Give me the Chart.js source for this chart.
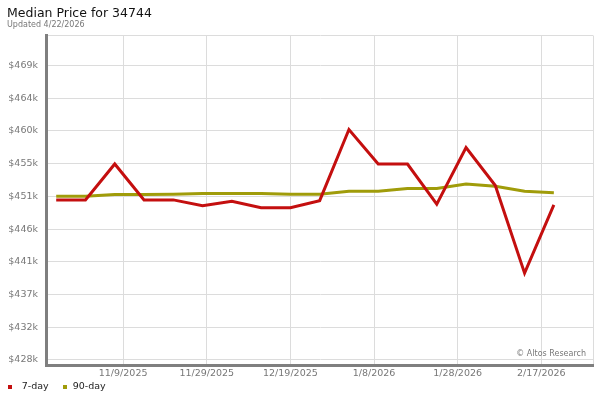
<!DOCTYPE html>
<html>
<head>
<meta charset="utf-8">
<script src="https://cdn.jsdelivr.net/npm/chart.js@4/dist/chart.umd.min.js"></script>
<style>
  html, body { margin: 0; padding: 0; background: #fff; }
  #wrap { width: 600px; height: 400px; }
</style>
</head>
<body>
<div id="wrap"><canvas id="c" width="600" height="400"></canvas></div>
<script>
// ---- data ----
const weekDates = ['2025-10-24','2025-10-31','2025-11-07','2025-11-14','2025-11-21','2025-11-28',
  '2025-12-05','2025-12-12','2025-12-19','2025-12-26','2026-01-02','2026-01-09',
  '2026-01-16','2026-01-23','2026-01-30','2026-02-06','2026-02-13','2026-02-20'];
const sevenDay = [450100, 450100, 455100, 450100, 450100, 449300, 449900, 449000, 449000,
  450000, 459900, 455100, 455100, 449500, 457400, 452100, 439900, 449400];
const ninetyDay = [450600, 450600, 450850, 450850, 450900, 451000, 451000, 451000, 450900,
  450900, 451300, 451300, 451700, 451700, 452300, 452000, 451300, 451100];
const xTickDates = ['2025-11-09','2025-11-29','2025-12-19','2026-01-08','2026-01-28','2026-02-17'];
const xTickLabels = ['11/9/2025','11/29/2025','12/19/2025','1/8/2026','1/28/2026','2/17/2026'];
const yTickValues = [427800, 432360, 436920, 441480, 446040, 450600, 455160, 459720, 464280, 468840];
const yTickLabels = ['$428k','$432k','$437k','$441k','$446k','$451k','$455k','$460k','$464k','$469k'];
const seriesNames = ['7-day', '90-day'];

// ---- helpers ----
function dayNum(s) { const p = s.split('-').map(Number); return Date.UTC(p[0], p[1]-1, p[2]) / 86400000; }
const weekDays = weekDates.map(dayNum);
const xTickDays = xTickDates.map(dayNum);
const refDay = dayNum('2025-12-19');
const xMin = refDay - 58.44, xMax = refDay + 72.36;
const yMin = 427100, yMax = 473000;

const RED = '#c40f0f', OLIVE = '#a09c0a';
const FONT = '"DejaVu Sans", sans-serif';

// legend swatch: small square inside a 9px-wide slot
function swatch(color, offset) {
  const c = document.createElement('canvas');
  c.width = 9; c.height = 4;
  const g = c.getContext('2d');
  g.fillStyle = color; g.fillRect(offset, 0, 4, 4);
  return c;
}

const creditPlugin = {
  id: 'credit',
  beforeDatasetsDraw(chart) {
    const {ctx, chartArea} = chart;
    ctx.save();
    ctx.font = '8px ' + FONT;
    ctx.fillStyle = '#777';
    ctx.textAlign = 'right';
    ctx.textBaseline = 'middle';
    ctx.fillText('\u00a9 Altos Research', chartArea.right - 7, chartArea.bottom - 11);
    ctx.restore();
  }
};
const layoutTweak = {
  id: 'layoutTweak',
  afterLayout(chart) {
    const lg = chart.legend;
    if (lg) { lg.left -= 9.25; lg.top += 1.75; lg.bottom += 1.75; }
    const xs = chart.scales.x;
    if (xs) { xs.bottom = xs.top + 16; }
  }
};

new Chart(document.getElementById('c'), {
  type: 'line',
  data: {
    datasets: [
      { label: seriesNames[0], data: weekDays.map((d, i) => ({x: d, y: sevenDay[i]})),
        borderColor: RED, backgroundColor: RED, borderWidth: 3, pointRadius: 0, tension: 0, fill: false },
      { label: seriesNames[1], data: weekDays.map((d, i) => ({x: d, y: ninetyDay[i]})),
        borderColor: OLIVE, backgroundColor: OLIVE, borderWidth: 3, pointRadius: 0, tension: 0, fill: false }
    ]
  },
  options: {
    responsive: false,
    animation: false,
    devicePixelRatio: 1,
    layout: { padding: { left: 7, right: 7, top: 0, bottom: 0 } },
    plugins: {
      title: { display: true, text: 'Median Price for 34744', align: 'start', color: '#111',
        font: { family: FONT, size: 12.5, weight: 'normal', lineHeight: 1 }, padding: { top: 7.75, bottom: 0 } },
      subtitle: { display: true, text: 'Updated 4/22/2026', align: 'start', color: '#777',
        font: { family: FONT, size: 8, weight: 'normal', lineHeight: 1 }, padding: { top: 0.5, bottom: 6.75 } },
      legend: {
        display: true, position: 'bottom', align: 'start',
        labels: {
          usePointStyle: true, pointStyleWidth: 9, boxHeight: 4, padding: 10.25, color: '#222',
          font: { family: FONT, size: 9.5 },
          generateLabels(chart) {
            const items = Chart.defaults.plugins.legend.labels.generateLabels(chart);
            items.forEach((it, i) => { it.pointStyle = swatch(it.strokeStyle, i === 0 ? 0 : 4); });
            return items;
          }
        }
      },
      tooltip: { enabled: false }
    },
    scales: {
      x: {
        type: 'linear', min: xMin, max: xMax,
        grid: { color: '#dcdcdc', lineWidth: 1, drawTicks: false },
        border: { display: true, color: '#7f7f7f', width: 3 },
        ticks: { autoSkip: false, maxRotation: 0, padding: 3, color: '#777', font: { family: FONT, size: 9.5 },
          callback: (v) => { const i = xTickDays.indexOf(v); return i >= 0 ? xTickLabels[i] : ''; } },
        afterBuildTicks: (s) => { s.ticks = xTickDays.concat([xMax]).map(v => ({value: v})); },
        afterFit: (s) => { s.height = 5.25; s.paddingLeft = 0; s.paddingRight = 0; }
      },
      y: {
        type: 'linear', min: yMin, max: yMax,
        grid: { color: '#dcdcdc', lineWidth: 1, drawTicks: false },
        border: { display: true, color: '#7f7f7f', width: 3 },
        ticks: { autoSkip: false, padding: 8, color: '#777', font: { family: FONT, size: 9.5 },
          callback: (v, i) => (i < yTickLabels.length ? yTickLabels[i] : '') },
        afterBuildTicks: (s) => { s.ticks = yTickValues.concat([yMax]).map(v => ({value: v})); },
        afterFit: (s) => { s.width = 39; s.paddingTop = 0; s.paddingBottom = 0; }
      }
    }
  },
  plugins: [creditPlugin, layoutTweak]
});
</script>
</body>
</html>
